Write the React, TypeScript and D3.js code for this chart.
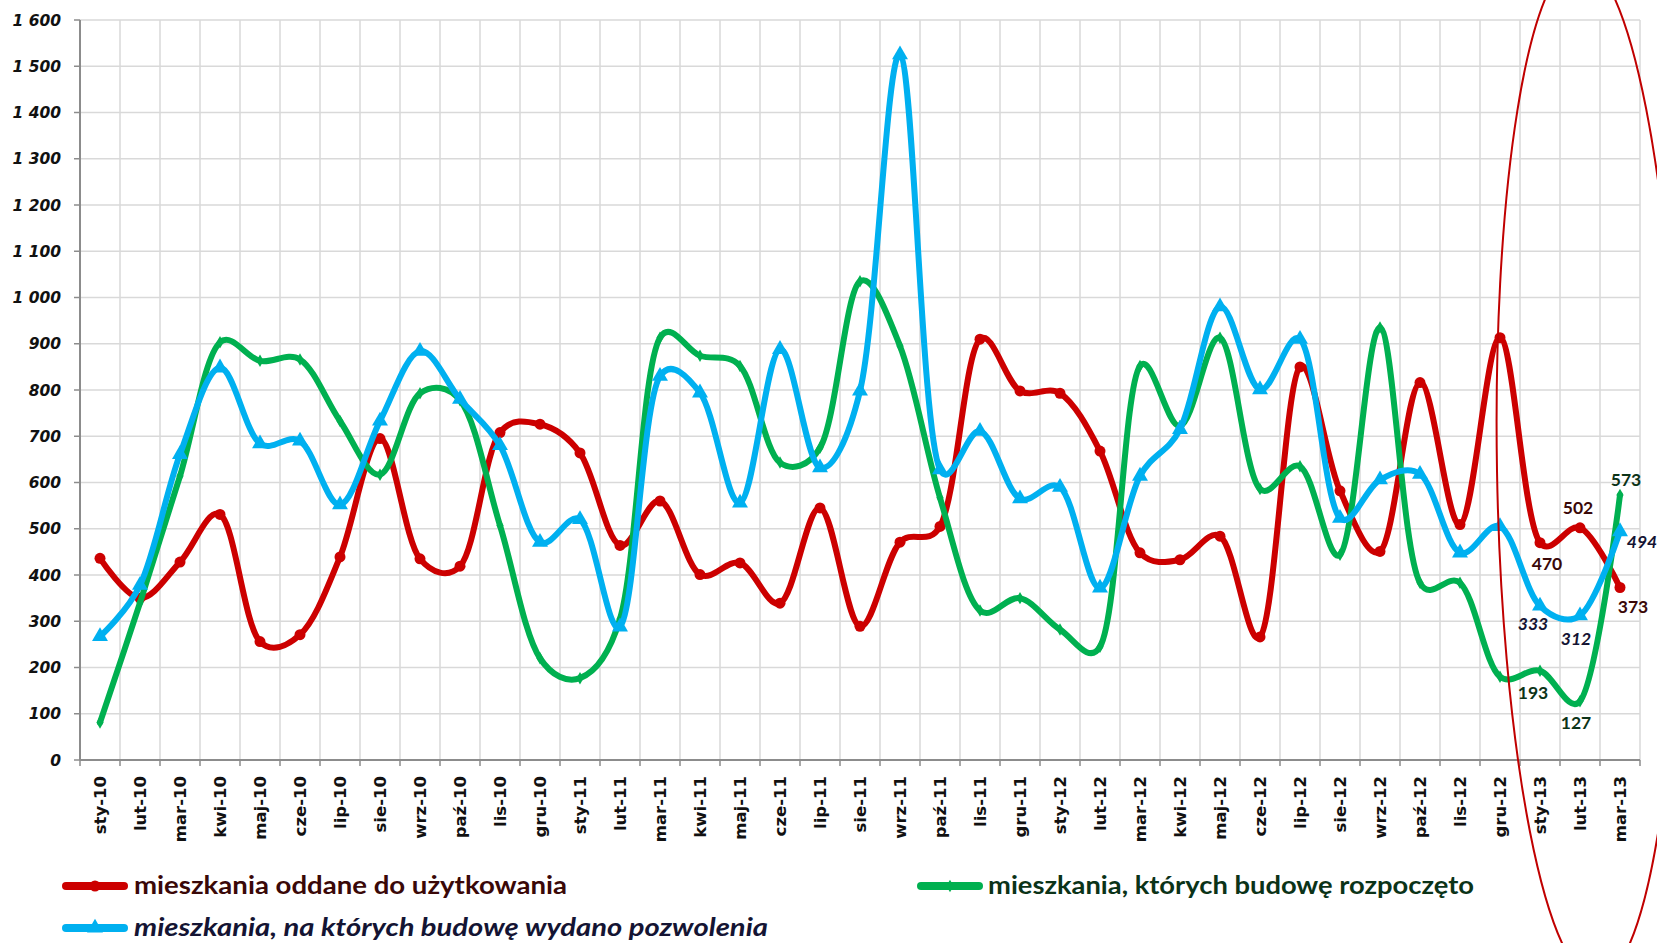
import React from 'react';
import * as d3 from 'd3';

const categories = ['sty-10','lut-10','mar-10','kwi-10','maj-10','cze-10','lip-10','sie-10','wrz-10','paź-10','lis-10','gru-10','sty-11','lut-11','mar-11','kwi-11','maj-11','cze-11','lip-11','sie-11','wrz-11','paź-11','lis-11','gru-11','sty-12','lut-12','mar-12','kwi-12','maj-12','cze-12','lip-12','sie-12','wrz-12','paź-12','lis-12','gru-12','sty-13','lut-13','mar-13'];

const oddane = [436,350,428,531,256,271,439,695,435,419,708,726,664,464,560,401,426,339,545,289,471,505,910,798,793,668,448,433,484,266,850,582,451,816,509,913,470,502,373];
const rozpoczete = [81,340,614,903,863,866,733,617,793,778,507,220,177,305,913,874,852,643,675,1035,895,567,323,350,282,245,852,722,913,586,635,444,935,383,383,180,193,127,573];
const pozwolenia = [267,378,661,848,684,690,552,733,884,780,680,471,520,288,830,794,556,888,632,798,1525,628,711,565,590,372,614,715,980,801,910,523,606,618,448,505,333,312,494];

const yTicks = [0,100,200,300,400,500,600,700,800,900,1000,1100,1200,1300,1400,1500,1600];

const legendNames = ['mieszkania oddane do użytkowania','mieszkania, których budowę rozpoczęto','mieszkania, na których budowę wydano pozwolenia'];

const W = 1657, H = 943;
const M = { left: 80, right: 1640, top: 20, bottom: 760 };

const RED = '#cc0000', GREEN = '#00b050', BLUE = '#00b0f0';

const locale = d3.formatLocale({ decimal: ',', thousands: ' ', grouping: [3], currency: ['', ''] });
const fmt = locale.format(',d');

export default function App() {
  const x = d3.scaleBand<string>().domain(categories).range([M.left, M.right]);
  const y = d3.scaleLinear().domain([0, 1600]).range([M.bottom, M.top]);
  const cx = (i: number) => (x(categories[i]) as number) + x.bandwidth() / 2;
  const line = d3.line<number>().x((_, i) => cx(i)).y(d => y(d)).curve(d3.curveCatmullRom.alpha(0.25));

  const series = [
    { name: legendNames[0], values: oddane, color: RED, marker: 'circle', labelColor: '#3a0808', italic: false,
      labels: [{ dx: 7, dy: 21 }, { dx: -2, dy: -20 }, { dx: 13, dy: 19 }] },
    { name: legendNames[1], values: rozpoczete, color: GREEN, marker: 'diamond', labelColor: '#0b3318', italic: false,
      labels: [{ dx: -7, dy: 22 }, { dx: -4, dy: 22 }, { dx: 6, dy: -15 }] },
    { name: legendNames[2], values: pozwolenia, color: BLUE, marker: 'triangle', labelColor: '#141433', italic: true,
      labels: [{ dx: -7, dy: 18 }, { dx: -4, dy: 23 }, { dx: 22, dy: 10 }] },
  ];

  const tri = d3.symbol().type(d3.symbolTriangle).size(110)() as string;
  const dia = d3.symbol().type(d3.symbolDiamond).size(45)() as string;

  const marker = (kind: string, color: string, px: number, py: number, key: string) => {
    if (kind === 'circle') return <circle key={key} cx={px} cy={py} r={5.5} fill={color} />;
    if (kind === 'triangle') return <path key={key} d={tri} transform={`translate(${px},${py})`} fill={color} />;
    return <path key={key} d={dia} transform={`translate(${px},${py})`} fill={color} />;
  };

  const gridXs = d3.range(categories.length + 1).map(i => M.left + i * x.bandwidth());

  return (
    <div style={{ position: 'fixed', left: 0, top: 0, width: W, height: H, background: '#fff' }}>
      <svg width={W} height={H} style={{ display: 'block' }}>
        <rect width={W} height={H} fill="#fff" />
        {yTicks.map(t => (
          <line key={'gy' + t} x1={M.left} x2={M.right} y1={y(t)} y2={y(t)} stroke="#d9d9d9" strokeWidth={1.5} />
        ))}
        {gridXs.map((gx, i) => (
          <line key={'gx' + i} x1={gx} x2={gx} y1={M.top} y2={M.bottom} stroke="#d9d9d9" strokeWidth={1.5} />
        ))}
        <line x1={M.left} x2={M.left} y1={M.top} y2={M.bottom} stroke="#8c8c8c" strokeWidth={2} />
        <line x1={M.left} x2={M.right} y1={M.bottom} y2={M.bottom} stroke="#8c8c8c" strokeWidth={2} />
        {yTicks.map(t => (
          <line key={'ty' + t} x1={M.left - 6} x2={M.left} y1={y(t)} y2={y(t)} stroke="#8c8c8c" strokeWidth={1.5} />
        ))}
        {gridXs.map((gx, i) => (
          <line key={'tx' + i} x1={gx} x2={gx} y1={M.bottom} y2={M.bottom + 6} stroke="#8c8c8c" strokeWidth={1.5} />
        ))}
        {yTicks.map(t => (
          <text key={'ly' + t} x={61} y={y(t)} dy="0.36em" textAnchor="end"
            style={{ font: 'italic bold 15.5px "DejaVu Sans"', fill: '#111' }}>{fmt(t)}</text>
        ))}
        {categories.map((c, i) => (
          <text key={'lx' + c} transform={`translate(${cx(i)},${M.bottom + 16}) rotate(-90)`} dy="0.36em" textAnchor="end"
            style={{ font: 'bold 16.5px "DejaVu Sans"', fill: '#111' }}>{c}</text>
        ))}
        {series.map(s => (
          <g key={s.name}>
            <path d={line(s.values) as string} fill="none" stroke={s.color} strokeWidth={6} strokeLinejoin="round" strokeLinecap="round" />
            {s.values.map((v, i) => marker(s.marker, s.color, cx(i), y(v), s.name + i))}
          </g>
        ))}
        {series.map(s => s.labels.map((l, k) => {
          const i = s.values.length - 3 + k;
          return (
            <text key={s.name + 'lab' + k} x={cx(i) + l.dx} y={y(s.values[i]) + l.dy} dy="0.35em" textAnchor="middle"
              style={{ font: `${s.italic ? 'italic ' : ''}bold 17.5px Lato`, fill: s.labelColor }}>{s.values[i]}</text>
          );
        }))}
        {[{ s: series[0], lx: 66, ly: 886, tx: 134, tl: 433 }, { s: series[1], lx: 921, ly: 886, tx: 988, tl: 486 }, { s: series[2], lx: 66, ly: 928, tx: 134, tl: 634 }].map((g, k) => (
          <g key={'leg' + k}>
            <line x1={g.lx} x2={g.lx + 58} y1={g.ly} y2={g.ly} stroke={g.s.color} strokeWidth={8} strokeLinecap="round" />
            {marker(g.s.marker, g.s.color, g.lx + 29, g.ly, 'lm' + k)}
            <text x={g.tx} y={g.ly} dy="0.33em" textLength={g.tl} lengthAdjust="spacingAndGlyphs"
              style={{ font: `${g.s.italic ? 'italic ' : ''}bold 25px Lato`, fill: g.s.labelColor }}>{g.s.name}</text>
          </g>
        ))}
        <ellipse cx={1588} cy={470} rx={91} ry={510} fill="none" stroke="#c00000" strokeWidth={2} transform="rotate(-1 1588 470)" />
      </svg>
    </div>
  );
}
